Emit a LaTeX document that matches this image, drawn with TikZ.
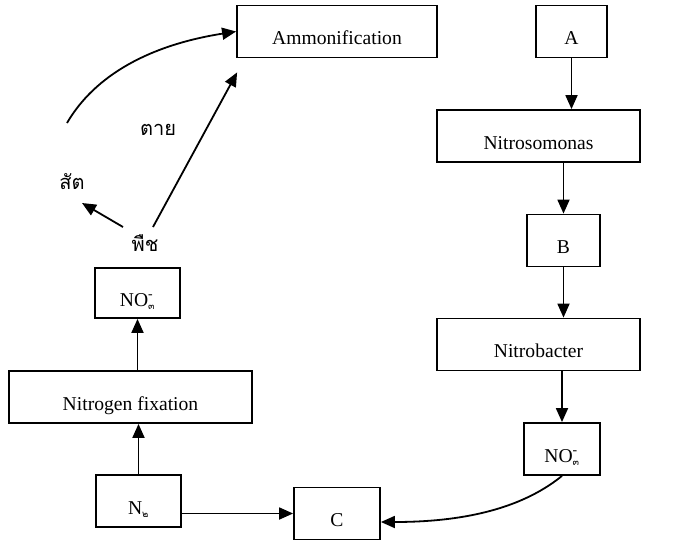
\documentclass[tikz,border=0pt]{standalone}
\usepackage{fontspec}
\setmainfont{Liberation Serif}
\newfontfamily\thaifont[Script=Thai]{Loma}
\usetikzlibrary{arrows.meta}
\newcommand{\nitrate}{NO\rlap{\textsuperscript{-}}\textsubscript{\thaifont\fontsize{9.5}{10}\selectfont ๓}}
\newcommand{\dinitro}{N\textsubscript{\thaifont\fontsize{9.5}{10}\selectfont ๒}}

\begin{document}
\begin{tikzpicture}[x=1pt,y=-1pt,font=\fontsize{19.6}{23}\selectfont,
  box/.style={draw,line width=1.8pt,inner sep=0pt,text height=39pt,text depth=13pt},
  arr/.style={line width=1.8pt,-{Triangle[length=14pt,width=12pt]}},
  thai/.style={font=\fontsize{20}{24}\selectfont\thaifont,inner sep=0pt}]
\useasboundingbox (0,0) rectangle (673,541);
\node[box,minimum width=200pt] (amm) at (337,31.5) {Ammonification};
\node[box,minimum width=71pt] (boxA) at (571.5,31.5) {A};
\node[box,minimum width=203pt] (nitroso) at (538.5,136) {Nitrosomonas};
\node[box,minimum width=73pt] (boxB) at (563.5,240.5) {B};
\node[box,minimum width=203pt] (nitrob) at (538.5,344.5) {Nitrobacter};
\node[box,minimum width=76pt] (no3r) at (562,449) {\nitrate};
\node[box,minimum width=86pt] (boxC) at (337,513.5) {C};
\node[box,minimum width=85pt] (n2) at (138.5,501) {\dinitro};
\node[box,minimum width=243pt] (fix) at (130.5,397) {Nitrogen fixation};
\node[box,minimum width=85pt,text depth=12pt,text height=38pt] (no3l) at (137.5,293) {\nitrate};
\node[thai] (animal) at (72,182) {สัต};
\node[thai] (dead) at (158,130) {ตาย};
\node[thai] (plant) at (145,243) {พืช};
\coordinate (animaltop) at (67,123);
\draw[arr] (boxA.south) -- (boxA.south |- nitroso.north);
\draw[arr] (nitroso.south -| boxB) -- (boxB.north);
\draw[arr] (boxB.south) -- (boxB.south |- nitrob.north);
\draw[arr] (nitrob.south -| no3r) -- (no3r.north);
\draw[arr] (no3r.south) .. controls (520,510) and (460,522) .. ([yshift=-8.5pt]boxC.east);
\draw[arr] (n2.east |- boxC) -- (boxC.west);
\draw[arr] (n2.north) -- (n2.north |- fix.south);
\draw[arr] (fix.north -| no3l) -- (no3l.south);
\draw[arr] ([shift={(-22,-16)}]plant.center) -- ([shift={(10,21)}]animal.center);
\draw[arr] ([shift={(8,-16)}]plant.center) -- ([shift={(1,14)}]amm.south west);
\draw[arr] (animaltop) .. controls (95,75) and (150,45) .. (amm.west);
\end{tikzpicture}
\end{document}
